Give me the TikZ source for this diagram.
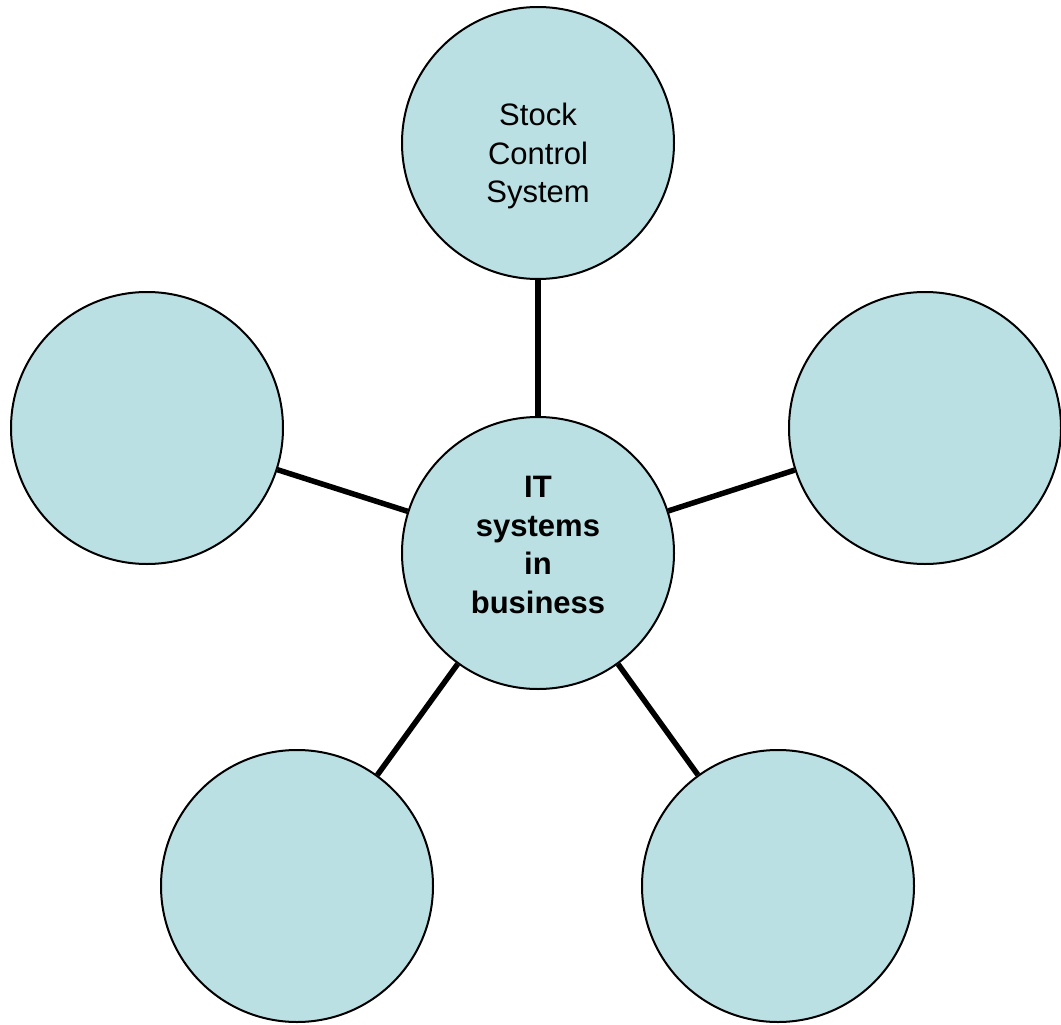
\documentclass[tikz,border=0pt]{standalone}
\usepackage{fontspec}
\setmainfont{Liberation Sans}
\definecolor{bubblefill}{RGB}{187,224,227}
\tikzset{
 bubble/.style={circle, draw=black, line width=2pt, fill=bubblefill, minimum size=272pt, inner sep=0pt},
 spoke/.style={black, line width=5.5pt},
 bubbletext/.style={align=center, inner sep=0pt, font=\fontsize{31}{38.5}\selectfont}
}
\begin{document}
\begin{tikzpicture}[x=1pt, y=-1pt]
\useasboundingbox (0,0) rectangle (1061,1025);
\node[bubble, label={[bubbletext, font=\fontsize{31}{38.5}\selectfont\bfseries, yshift=8pt, name=hubtext]center:IT\\systems\\in\\business}] (hub) at (538,553) {};
\node[bubble, label={[bubbletext, yshift=-13pt, name=stocktext]center:Stock\\Control\\System}] (stock) at (538,143) {};
\node[bubble] (west) at (147,428) {};
\node[bubble] (east) at (925,428) {};
\node[bubble] (swest) at (297,886) {};
\node[bubble] (seast) at (778,886) {};
\foreach \n in {stock, west, east, swest, seast} {
 \draw[spoke] (hub) -- (\n);
}
\end{tikzpicture}
\end{document}
